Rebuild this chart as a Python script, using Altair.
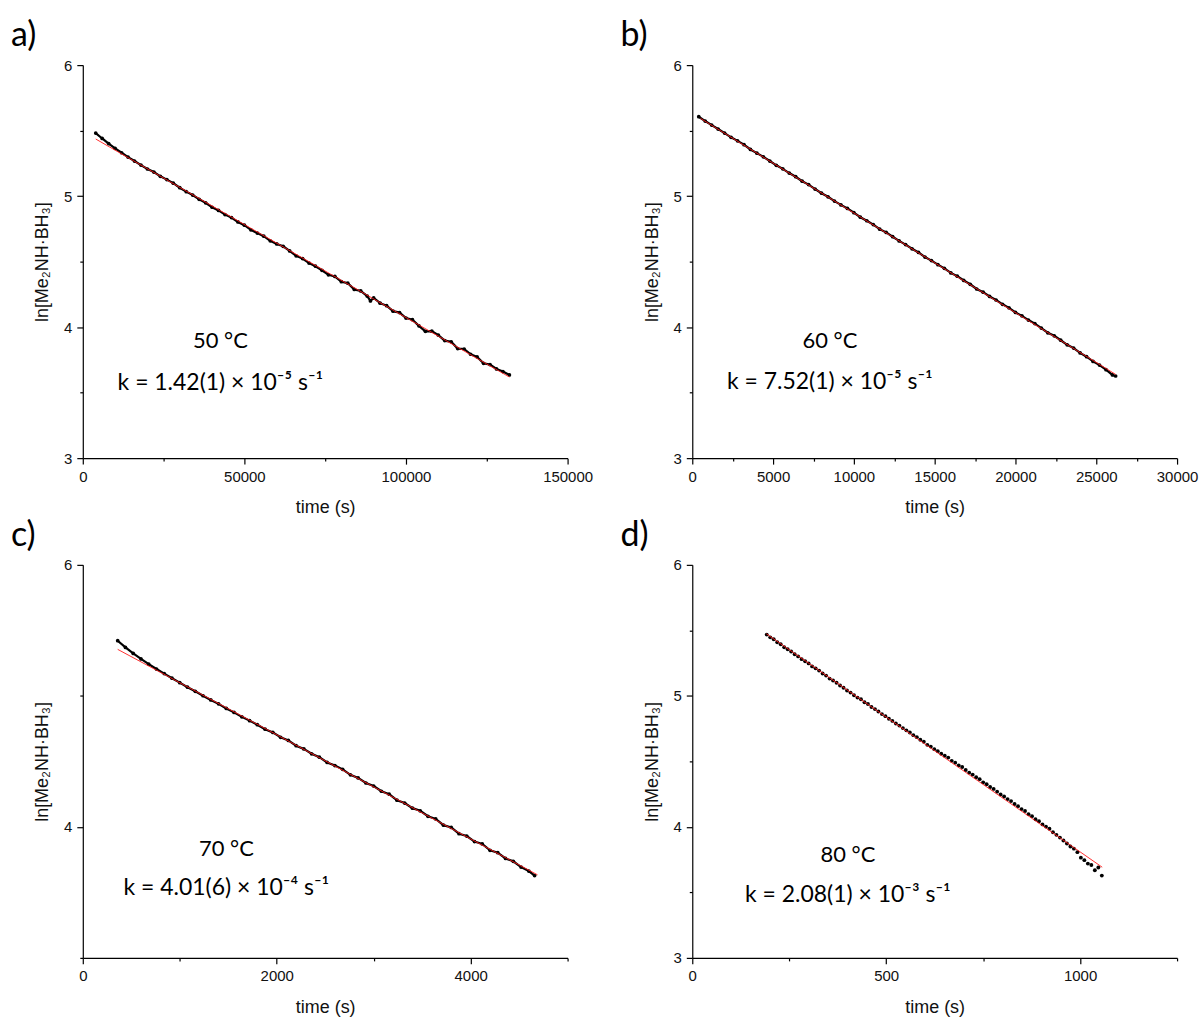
import altair as alt
import pandas as pd

# ---------------- data ----------------
# panel a (50 °C)
a_t = [4000, 6000, 8000, 10000, 12000, 14000, 16000, 18000, 20000, 22000, 24000, 26000,
       28000, 30000, 32000, 34000, 36000, 38000, 40000, 42000, 44000, 46000, 48000, 50000,
       52000, 54000, 56000, 58000, 60000, 62000, 64000, 66000, 68000, 70000, 72000, 74000,
       76000, 78000, 80000, 82000, 84000, 86000, 88000, 89000, 90000, 92000, 94000, 96000,
       98000, 100000, 102000, 104000, 106000, 108000, 110000, 112000, 114000, 116000, 118000,
       120000, 122000, 124000, 126000, 128000, 130000, 132000]
a_y = [5.481, 5.440, 5.401, 5.365, 5.331, 5.298, 5.268, 5.237, 5.207, 5.184, 5.151, 5.126,
       5.099, 5.064, 5.034, 5.008, 4.976, 4.949, 4.915, 4.891, 4.859, 4.836, 4.803, 4.778,
       4.743, 4.718, 4.694, 4.659, 4.635, 4.617, 4.582, 4.544, 4.523, 4.489, 4.465, 4.434,
       4.399, 4.387, 4.347, 4.335, 4.288, 4.276, 4.237, 4.200, 4.223, 4.183, 4.164, 4.122,
       4.111, 4.069, 4.057, 4.010, 3.968, 3.969, 3.939, 3.897, 3.888, 3.836, 3.833,
       3.793, 3.773, 3.724, 3.714, 3.681, 3.661, 3.635]
a_fit_t = [4000, 132000]
a_fit_y = [5.436, 3.619]

# panel b (60 °C)
b_t = [400, 800, 1200, 1600, 2000, 2400, 2800, 3200, 3600, 4000, 4400, 4800, 5200, 5600,
       6000, 6400, 6800, 7200, 7600, 8000, 8400, 8800, 9200, 9600, 10000, 10400, 10800,
       11200, 11600, 12000, 12400, 12800, 13200, 13600, 14000, 14400, 14800, 15200, 15600,
       16000, 16400, 16800, 17200, 17600, 18000, 18400, 18800, 19200, 19600, 20000, 20400,
       20800, 21200, 21600, 22000, 22400, 22800, 23200, 23600, 24000, 24400, 24800, 25200,
       25600, 26000, 26200]
b_y = [5.606, 5.573, 5.542, 5.512, 5.481, 5.449, 5.422, 5.393, 5.356, 5.328, 5.300, 5.268,
       5.235, 5.208, 5.176, 5.148, 5.114, 5.088, 5.054, 5.022, 4.995, 4.962, 4.933, 4.906,
       4.874, 4.839, 4.812, 4.783, 4.748, 4.723, 4.690, 4.658, 4.630, 4.598, 4.570, 4.535,
       4.508, 4.477, 4.449, 4.414, 4.389, 4.356, 4.327, 4.291, 4.267, 4.234, 4.207, 4.174,
       4.147, 4.112, 4.086, 4.054, 4.027, 3.993, 3.957, 3.934, 3.900, 3.865, 3.840, 3.803,
       3.774, 3.738, 3.710, 3.675, 3.635, 3.627]
b_fit_t = [500, 26200]
b_fit_y = [5.594, 3.639]

# panel c (70 °C)
c_t = [360, 440, 520, 600, 680, 760, 840, 920, 1000, 1080, 1160, 1240, 1320, 1400, 1480,
       1560, 1640, 1720, 1800, 1880, 1960, 2040, 2120, 2200, 2280, 2360, 2440, 2520, 2600,
       2680, 2760, 2840, 2920, 3000, 3080, 3160, 3240, 3320, 3400, 3480, 3560, 3640, 3720,
       3800, 3880, 3960, 4040, 4120, 4200, 4280, 4360, 4440, 4520, 4600, 4660]
c_y = [5.421, 5.370, 5.324, 5.282, 5.242, 5.205, 5.170, 5.135, 5.101, 5.066, 5.035, 5.001,
       4.969, 4.939, 4.904, 4.874, 4.840, 4.811, 4.780, 4.746, 4.721, 4.684, 4.660, 4.620,
       4.595, 4.558, 4.532, 4.492, 4.468, 4.439, 4.397, 4.374, 4.335, 4.312, 4.272, 4.250,
       4.204, 4.182, 4.143, 4.123, 4.081, 4.061, 4.013, 3.996, 3.948, 3.930, 3.888, 3.870,
       3.821, 3.803, 3.759, 3.737, 3.693, 3.663, 3.628]
c_fit_t = [360, 4690]
c_fit_y = [5.355, 3.634]

# panel d (80 °C)
d_t = [192, 201, 210, 219, 228, 237, 246, 255, 264, 273, 282, 291, 300, 309, 318, 327, 336,
       345, 354, 363, 372, 381, 390, 399, 408, 417, 426, 435, 444, 453, 462, 471, 480, 489,
       498, 507, 516, 525, 534, 543, 552, 561, 570, 579, 588, 597, 606, 615, 624, 633, 642,
       651, 660, 669, 678, 687, 696, 705, 714, 723, 732, 741, 750, 759, 768, 777, 786, 795,
       804, 813, 822, 831, 840, 849, 858, 867, 876, 885, 894, 903, 912, 921, 930, 939, 948,
       957, 966, 975, 984, 993, 1002, 1011, 1020, 1029, 1038, 1047, 1056]
d_y = [5.468, 5.447, 5.432, 5.409, 5.394, 5.371, 5.356, 5.339, 5.318, 5.301, 5.280, 5.264,
       5.248, 5.225, 5.210, 5.193, 5.171, 5.155, 5.132, 5.117, 5.100, 5.079, 5.062, 5.041,
       5.025, 5.005, 4.987, 4.974, 4.951, 4.938, 4.915, 4.899, 4.881, 4.861, 4.845, 4.825,
       4.809, 4.789, 4.773, 4.754, 4.737, 4.720, 4.700, 4.685, 4.665, 4.650, 4.626, 4.613,
       4.593, 4.578, 4.558, 4.543, 4.529, 4.504, 4.490, 4.469, 4.457, 4.434, 4.414, 4.399,
       4.379, 4.364, 4.340, 4.325, 4.304, 4.290, 4.269, 4.247, 4.232, 4.212, 4.197, 4.175,
       4.158, 4.136, 4.121, 4.097, 4.082, 4.058, 4.043, 4.019, 4.002, 3.986, 3.959, 3.939,
       3.918, 3.896, 3.873, 3.850, 3.834, 3.807, 3.765, 3.746, 3.720, 3.709, 3.669, 3.690,
       3.628]
d_fit_t = [191, 1057]
d_fit_y = [5.474, 3.692]

# axis ticks
a_xticks = [0, 25000, 50000, 75000, 100000, 125000, 150000]
b_xticks = [0, 2500, 5000, 7500, 10000, 12500, 15000, 17500, 20000, 22500, 25000, 27500, 30000]
c_xticks = [0, 1000, 2000, 3000, 4000, 5000]
d_xticks = [0, 250, 500, 750, 1000, 1250]
y_ticks = [3, 3.5, 4, 4.5, 5, 5.5, 6]
c_yticks = [3, 4, 5, 6]

# texts
letters = ["a)", "b)", "c)", "d)"]
temps = ["50 °C", "60 °C", "70 °C", "80 °C"]
rates = ["k = 1.42(1) × 10⁻⁵ s⁻¹", "k = 7.52(1) × 10⁻⁵ s⁻¹",
         "k = 4.01(6) × 10⁻⁴ s⁻¹", "k = 2.08(1) × 10⁻³ s⁻¹"]
x_title = "time (s)"
y_title = "ln[Me₂NH·BH₃]"

# ---------------- chart ----------------
W, H = 486, 394
AXFONT = "Liberation Sans"
NOTEFONT = "Lato"


def make_axis(values, major, title, orient):
    test = f"abs(datum.value % {major}) < 1e-6"
    return alt.Axis(
        values=values, title=title, orient=orient, grid=False, format="d" if orient == "bottom" else "",
        labelExpr=f"{test} ? datum.label : ''",
        tickSize={"condition": {"test": test, "value": 6}, "value": 3},
        labelFlush=False, labelOverlap=False,
        domainColor="black", domainWidth=1.2, tickColor="black", tickWidth=1.2,
        labelFont=AXFONT, labelFontSize=15, labelColor="#111", labelPadding=5,
        titleFont=AXFONT, titleFontSize=18, titleFontWeight="normal", titleColor="#111",
        titlePadding=15 if orient == "bottom" else 12,
    )


def panel(t, y, fit_t, fit_y, xmax, xticks, xmajor, yticks, ymajor, letter, temp, rate,
          tx, ty_temp, ty_rate, dots_only):
    df = pd.DataFrame({"t": t, "y": y})
    fit = pd.DataFrame({"t": fit_t, "y": fit_y})
    xenc = alt.X("t:Q", scale=alt.Scale(domain=[0, xmax], nice=False, zero=False),
                 axis=make_axis(xticks, xmajor, x_title, "bottom"))
    yenc = alt.Y("y:Q", scale=alt.Scale(domain=[3, 6], nice=False, zero=False),
                 axis=make_axis(yticks, ymajor, y_title, "left"))
    layers = []
    if not dots_only:
        layers.append(alt.Chart(df).mark_line(color="black", strokeWidth=2.2).encode(x=xenc, y=yenc))
        layers.append(alt.Chart(df).mark_circle(color="black", size=14, opacity=1).encode(x="t:Q", y="y:Q"))
    else:
        layers.append(alt.Chart(df).mark_circle(color="black", size=15, opacity=1).encode(x=xenc, y=yenc))
    layers.append(alt.Chart(fit).mark_line(color="#ff1a1a", strokeWidth=0.9).encode(x="t:Q", y="y:Q"))

    def txt(s, x, yy, size, align):
        return alt.Chart(pd.DataFrame({"s": [s]})).mark_text(
            font=NOTEFONT, fontSize=size, color="black", align=align, baseline="alphabetic"
        ).encode(text="s:N", x=alt.value(x), y=alt.value(yy))

    layers.append(txt(letter, -72, -19, 34, "left"))
    layers.append(txt(temp, tx, ty_temp, 22, "center"))
    layers.append(txt(rate, tx, ty_rate, 23, "center"))
    return alt.layer(*layers).properties(width=W, height=H)


pa = panel(a_t, a_y, a_fit_t, a_fit_y, 150000, a_xticks, 50000, y_ticks, 1, letters[0], temps[0], rates[0], 138, 284, 326, False)
pb = panel(b_t, b_y, b_fit_t, b_fit_y, 30000, b_xticks, 5000, y_ticks, 1, letters[1], temps[1], rates[1], 138, 284, 325, False)
pc = panel(c_t, c_y, c_fit_t, c_fit_y, 5000, c_xticks, 2000, c_yticks, 2, letters[2], temps[2], rates[2], 144, 292, 331, False)
pd_ = panel(d_t, d_y, d_fit_t, d_fit_y, 1250, d_xticks, 500, y_ticks, 1, letters[3], temps[3], rates[3], 156, 298, 338, True)

chart = alt.concat(pa, pb, pc, pd_, columns=2, spacing={"row": 107, "column": 125}, bounds="flush").properties(
    padding={"left": 11, "top": 18, "right": 5, "bottom": 5},
    background="white",
).configure_view(stroke=None)

chart.save("out.html", embed_options={"renderer": "svg", "actions": False})
